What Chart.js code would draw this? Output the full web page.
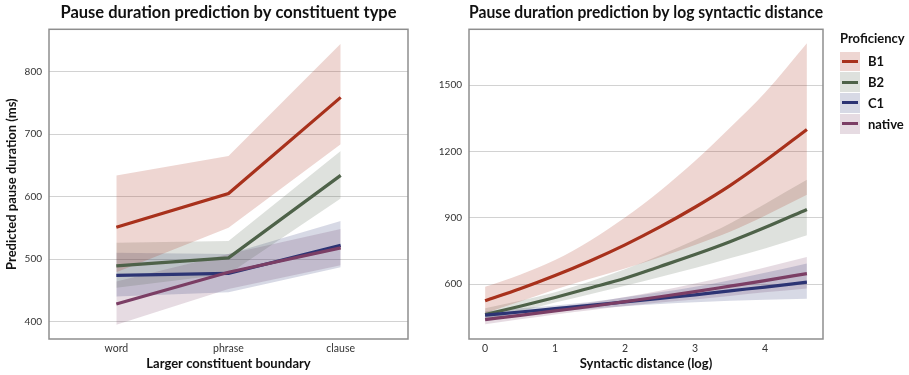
<!DOCTYPE html>
<html>
<head>
<meta charset="utf-8">
<title>Pause duration prediction</title>
<script src="https://cdn.jsdelivr.net/npm/chart.js@4.4.1/dist/chart.umd.min.js"></script>
<style>
  body { margin: 0; background: #fff; font-family: Lato, sans-serif; }
  #wrap { position: relative; width: 909px; height: 375px; }
  #typeChart { position: absolute; left: 0; top: 0; }
  #distChart { position: absolute; left: 420px; top: 0; }
  #legend { position: absolute; left: 840px; top: 28px; }
  #legend .ttl { font-weight: bold; font-size: 13px; color: #111; height: 23px; line-height: 20px; }
  #legend .row { height: 20.8px; display: flex; align-items: center; }
  #legend .key { width: 20px; height: 19.6px; position: relative; margin-right: 8px; }
  #legend .key i { position: absolute; left: 2px; right: 2px; top: 8.3px; height: 3px; }
  #legend .lbl { font-weight: bold; font-size: 13px; color: #111; }
</style>
</head>
<body>
<div id="wrap">
  <canvas id="typeChart" width="420" height="375"></canvas>
  <canvas id="distChart" width="489" height="375"></canvas>
  <div id="legend"></div>
</div>
<script>
// groups and colours
const groups = ["B1", "B2", "C1", "native"];
const lineColors = ["#a8311c", "#4e6249", "#2c3474", "#7b3e65"];
const bandColors = ["rgba(168,49,28,0.2)", "rgba(78,98,73,0.19)", "rgba(44,52,116,0.19)", "rgba(123,62,101,0.19)"];

// left panel: constituent type
const categories = ["word", "phrase", "clause"];
const typeX = [0, 1, 2];
const yTicksType = [400, 500, 600, 700, 800];

const b1Type = [551, 605, 759];
const b1TypeHi = [634, 665, 845];
const b1TypeLo = [479, 550, 684];
const b2Type = [489, 502, 634];
const b2TypeHi = [526, 529, 673];
const b2TypeLo = [454, 476, 597];
const c1Type = [474, 477, 522];
const c1TypeHi = [510, 508, 561];
const c1TypeLo = [440, 447, 487];
const natType = [428, 479, 518];
const natTypeHi = [464, 508, 548];
const natTypeLo = [395, 452, 490];

// right panel: log syntactic distance
const distX = [0, 0.5, 1, 1.5, 2, 2.5, 3, 3.5, 4, 4.6];
const xTicksDist = [0, 1, 2, 3, 4];
const yTicksDist = [600, 900, 1200, 1500];

const b1Dist = [525, 579, 639, 705, 778, 859, 948, 1046, 1157, 1300];
const b1DistHi = [588, 643, 709, 797, 902, 1022, 1157, 1308, 1466, 1690];
const b1DistLo = [469, 522, 576, 624, 671, 722, 777, 837, 909, 1004];
const b2Dist = [463, 500, 540, 583, 627, 680, 734, 792, 856, 938];
const b2DistHi = [491, 525, 564, 612, 667, 731, 800, 875, 963, 1072];
const b2DistLo = [437, 476, 517, 555, 593, 633, 673, 717, 761, 821];
const c1Dist = [460, 474, 489, 504, 520, 536, 552, 570, 587, 609];
const c1DistHi = [478, 491, 504, 519, 541, 563, 588, 618, 652, 694];
const c1DistLo = [442, 458, 475, 489, 500, 510, 518, 525, 529, 534];
const natDist = [440, 459, 479, 499, 521, 543, 566, 591, 616, 648];
const natDistHi = [462, 477, 496, 516, 542, 570, 603, 638, 675, 723];
const natDistLo = [419, 441, 463, 482, 501, 517, 531, 547, 563, 581];

const FONT = "Lato";

const pts = (xs, ys) => xs.map((x, i) => ({ x, y: ys[i] }));

function buildSets(xs, means, his, los, smooth) {
  const bands = [];
  const lines = [];
  means.forEach((m, g) => {
    const common = { pointRadius: 0, pointHoverRadius: 0, cubicInterpolationMode: smooth ? "monotone" : "default" };
    bands.push({ ...common, label: groups[g] + " hi", data: pts(xs, his[g]), borderWidth: 0, borderColor: "transparent",
      backgroundColor: bandColors[g], fill: "+1", order: 20 });
    bands.push({ ...common, label: groups[g] + " lo", data: pts(xs, los[g]), borderWidth: 0, borderColor: "transparent",
      fill: false, order: 20 });
    // later groups on top, like the original
    lines.push({ ...common, label: groups[g], data: pts(xs, m), borderColor: lineColors[g], borderWidth: 3.2,
      fill: false, order: 10 - g, borderCapStyle: "butt" });
  });
  return bands.concat(lines);
}

const frame = {
  id: "frame",
  afterDraw(chart) {
    const { ctx, chartArea: a } = chart;
    ctx.save();
    ctx.strokeStyle = "#8e8e8e";
    ctx.lineWidth = 1.5;
    ctx.strokeRect(a.left, a.top, a.right - a.left, a.bottom - a.top);
    ctx.restore();
  },
};

function yAxis(min, max, ticks, title) {
  return {
    type: "linear",
    min, max,
    afterBuildTicks: (s) => { s.ticks = ticks.map((v) => ({ value: v })); },
    afterFit: (s) => { s.width = 49; },
    grid: { color: "#d2d2d2", lineWidth: 1, drawTicks: false },
    border: { display: false },
    ticks: { padding: 7, color: "#333", font: { family: FONT, size: 10 }, callback: (v) => String(v) },
    title: title
      ? { display: true, text: title, color: "#111", font: { family: FONT, size: 13, weight: "bold" }, padding: { top: 4, bottom: 0 } }
      : { display: false },
  };
}

function xAxis(min, max, ticks, labelFn, title) {
  return {
    type: "linear",
    min, max,
    afterBuildTicks: (s) => { s.ticks = ticks.map((v) => ({ value: v })); },
    afterFit: (s) => { s.height = 36; },
    grid: { display: false, drawTicks: false },
    border: { display: false },
    ticks: { padding: 3, color: "#333", font: { family: FONT, size: 10.5 }, callback: labelFn, maxRotation: 0 },
    title: { display: true, text: title, color: "#111", font: { family: FONT, size: 13, weight: "bold" }, padding: { top: 0, bottom: 3 } },
  };
}

function makeChart(id, datasets, scales, title, padRight) {
  return new Chart(document.getElementById(id), {
    type: "line",
    data: { datasets },
    plugins: [frame],
    options: {
      responsive: false,
      animation: false,
      events: [],
      layout: { padding: { left: 0, right: padRight, top: 0, bottom: 0 } },
      scales,
      plugins: {
        legend: { display: false },
        tooltip: { enabled: false },
        title: {
          display: true, text: title, fullSize: false, color: "#111",
          font: { family: FONT, size: 16.5, weight: "bold" },
          padding: { top: 3, bottom: 6.5 },
        },
      },
    },
  });
}

makeChart("typeChart",
  buildSets(typeX,
    [b1Type, b2Type, c1Type, natType],
    [b1TypeHi, b2TypeHi, c1TypeHi, natTypeHi],
    [b1TypeLo, b2TypeLo, c1TypeLo, natTypeLo], false),
  {
    x: xAxis(-0.6, 2.6, typeX, (v) => categories[v] ?? "", "Larger constituent boundary"),
    y: yAxis(372, 868, yTicksType, "Predicted pause duration (ms)"),
  },
  "Pause duration prediction by constituent type", 12);

makeChart("distChart",
  buildSets(distX,
    [b1Dist, b2Dist, c1Dist, natDist],
    [b1DistHi, b2DistHi, c1DistHi, natDistHi],
    [b1DistLo, b2DistLo, c1DistLo, natDistLo], true),
  {
    x: xAxis(-0.23, 4.83, xTicksDist, (v) => String(v), "Syntactic distance (log)"),
    y: yAxis(352, 1753, yTicksDist, null),
  },
  "Pause duration prediction by log syntactic distance", 86);

// legend
const legend = document.getElementById("legend");
legend.innerHTML = '<div class="ttl">Proficiency</div>' + groups.map((g, i) =>
  `<div class="row"><div class="key" style="background:${bandColors[i]}"><i style="background:${lineColors[i]}"></i></div><span class="lbl">${g}</span></div>`
).join("");
</script>
</body>
</html>
